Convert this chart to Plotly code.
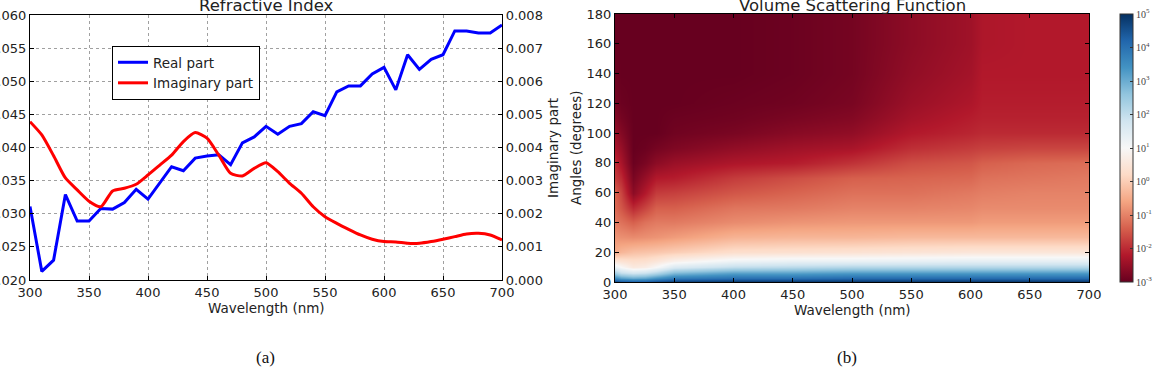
import plotly.graph_objects as go

W_PX, H_PX = 1161, 371

# ---------------- data: panel (a) ----------------
wavelength = [300, 310, 320, 330, 340, 350, 360, 370, 380, 390, 400, 410, 420, 430, 440,
              450, 460, 470, 480, 490, 500, 510, 520, 530, 540, 550, 560, 570, 580, 590,
              600, 610, 620, 630, 640, 650, 660, 670, 680, 690, 700]
real_part = [1.0311, 1.0213, 1.0230, 1.0329, 1.0289, 1.0289, 1.0308, 1.0307, 1.0317, 1.0337,
             1.0322, 1.0347, 1.0371, 1.0365, 1.0384, 1.0387, 1.0389, 1.0374, 1.0407, 1.0416,
             1.0432, 1.0420, 1.0432, 1.0436, 1.0454, 1.0448, 1.0484, 1.0493, 1.0493, 1.0511,
             1.0521, 1.0487, 1.0540, 1.0518, 1.0533, 1.0540, 1.0576, 1.0576, 1.0573, 1.0573,
             1.0585]
imag_part = [0.00478, 0.00438, 0.00375, 0.00308, 0.00272, 0.00238, 0.00221, 0.00269, 0.00277,
             0.00289, 0.00317, 0.00347, 0.00377, 0.00418, 0.00445, 0.00428, 0.00377, 0.00322,
             0.00314, 0.00337, 0.00354, 0.00327, 0.00292, 0.00262, 0.00221, 0.00191, 0.00171,
             0.00153, 0.00136, 0.00123, 0.00116, 0.00115, 0.00111, 0.00111, 0.00116, 0.00123,
             0.00131, 0.00139, 0.00141, 0.00136, 0.00121]

# ---------------- data: panel (b) (log10 of VSF) ----------------
vsf_wavelength = [300, 305, 315, 325, 335, 350, 400, 450, 500, 550, 600, 610, 650, 700]
vsf_angle = [0, 3, 6, 10, 14, 20, 30, 40, 50, 60, 70, 80, 90, 100, 110, 120, 140, 160, 180]
vsf_log10 = [
    [4.8, 4.6, 4.5, 4.5, 4.7, 4.9, 5.0, 5.0, 5.0, 5.0, 5.0, 5.0, 5.0, 5.0],            # 0
    [3.5, 3.2, 3.0, 3.1, 3.4, 3.8, 4.0, 4.0, 4.1, 4.1, 4.1, 4.1, 4.1, 4.1],            # 3
    [2.4, 2.0, 1.8, 1.9, 2.2, 2.8, 3.2, 3.2, 3.3, 3.3, 3.3, 3.3, 3.3, 3.3],            # 6
    [1.3, 1.0, 0.6, 0.7, 1.0, 1.6, 2.0, 2.1, 2.2, 2.2, 2.2, 2.2, 2.2, 2.2],            # 10
    [0.5, 0.4, 0.3, 0.35, 0.5, 0.8, 1.2, 1.3, 1.3, 1.35, 1.4, 1.4, 1.4, 1.4],          # 14
    [-0.5, -0.35, -0.2, -0.15, -0.1, 0.0, 0.3, 0.35, 0.4, 0.45, 0.5, 0.5, 0.5, 0.5],   # 20
    [-0.8, -0.85, -0.9, -0.85, -0.8, -0.7, -0.4, -0.35, -0.35, -0.3, -0.3, -0.3, -0.3, -0.3],  # 30
    [-1.1, -1.2, -1.4, -1.2, -1.1, -1.1, -0.9, -0.8, -0.75, -0.75, -0.75, -0.7, -0.7, -0.7],   # 40
    [-1.3, -1.5, -2.0, -1.7, -1.4, -1.4, -1.15, -1.1, -1.0, -1.0, -0.95, -0.9, -0.9, -0.9],    # 50
    [-1.4, -1.7, -2.6, -2.2, -1.8, -1.75, -1.5, -1.35, -1.2, -1.2, -1.1, -1.05, -1.0, -1.0],   # 60
    [-1.8, -2.0, -2.8, -2.5, -2.2, -2.15, -1.8, -1.6, -1.4, -1.35, -1.3, -1.2, -1.15, -1.1],   # 70
    [-2.0, -2.3, -2.95, -2.8, -2.6, -2.45, -2.25, -2.15, -1.9, -1.6, -1.5, -1.4, -1.3, -1.25],  # 80
    [-2.3, -2.5, -3.0, -2.95, -2.85, -2.75, -2.55, -2.4, -2.3, -1.95, -1.8, -1.75, -1.7, -1.7],  # 90
    [-2.5, -2.7, -3.0, -3.0, -3.0, -2.9, -2.8, -2.65, -2.55, -2.2, -2.05, -2.0, -2.0, -2.0],     # 100
    [-2.7, -2.85, -3.0, -3.0, -3.0, -2.95, -2.9, -2.8, -2.7, -2.35, -2.15, -2.1, -2.1, -2.1],    # 110
    [-2.85, -2.95, -3.0, -3.0, -3.0, -3.0, -2.95, -2.9, -2.8, -2.45, -2.25, -2.15, -2.15, -2.15], # 120
    [-2.95, -3.0, -3.0, -3.0, -3.0, -3.0, -3.0, -2.95, -2.85, -2.55, -2.35, -2.2, -2.2, -2.2],   # 140
    [-3.0, -3.0, -3.0, -3.0, -3.0, -3.0, -3.0, -2.95, -2.85, -2.6, -2.4, -2.25, -2.2, -2.2],     # 160
    [-3.0, -3.0, -3.0, -3.0, -3.0, -3.0, -3.0, -2.95, -2.85, -2.6, -2.4, -2.25, -2.2, -2.2],     # 180
]
cbar_exponents = [-3, -2, -1, 0, 1, 2, 3, 4, 5]

# matplotlib RdBu
rdbu = ["#67001f", "#b2182b", "#d6604d", "#f4a582", "#fddbc7", "#f7f7f7",
        "#d1e5f0", "#92c5de", "#4393c3", "#2166ac", "#053061"]
colorscale = [[i / 10, c] for i, c in enumerate(rdbu)]


def px_x(p):
    return p / W_PX


def px_y(p):
    return 1 - p / H_PX


FONT = "DejaVu Sans"
TXT = "#222222"

fig = go.Figure()

fig.add_trace(go.Scatter(x=wavelength, y=real_part, mode="lines", name="Real part",
                         line=dict(color="#0000ff", width=3), xaxis="x", yaxis="y"))
fig.add_trace(go.Scatter(x=wavelength, y=imag_part, mode="lines", name="Imaginary part",
                         line=dict(color="#ff0000", width=3, shape="spline", smoothing=0.6),
                         xaxis="x", yaxis="y2"))

fig.add_trace(go.Heatmap(
    x=vsf_wavelength, y=vsf_angle, z=vsf_log10, zsmooth="best",
    colorscale=colorscale, zmin=-3, zmax=5, xaxis="x2", yaxis="y3",
    showlegend=False,
    colorbar=dict(
        thickness=13, thicknessmode="pixels",
        len=268 / H_PX, lenmode="fraction",
        x=px_x(1120), xanchor="left", y=px_y(148), yanchor="middle",
        xpad=0, ypad=0, outlinecolor="#333333", outlinewidth=1,
        tickvals=cbar_exponents,
        ticktext=["10<sup>%d</sup>" % e for e in cbar_exponents],
        ticks="inside", ticklen=3, tickcolor="#333333",
        tickfont=dict(family="Liberation Serif", size=10, color="#444444"),
    ),
))

TICK = 13
axis_common = dict(showline=True, linecolor="#000000", linewidth=1.2, ticks="inside",
                   ticklen=4, tickcolor="#000000",
                   tickfont=dict(family=FONT, size=TICK, color=TXT), zeroline=False)

fig.update_layout(
    width=W_PX, height=H_PX, margin=dict(l=0, r=0, t=0, b=0, autoexpand=False),
    paper_bgcolor="white", plot_bgcolor="white",
    font=dict(family=FONT, color=TXT),
    xaxis=dict(domain=[px_x(30), px_x(502)], range=[300, 700], dtick=50, anchor="y",
               showgrid=True, gridcolor="#a0a0a0", griddash="dot", gridwidth=1,
               mirror=True, ticklabelstandoff=0, automargin=False, **axis_common),
    yaxis=dict(domain=[px_y(280), px_y(15)], range=[1.020, 1.060], dtick=0.005,
               tickformat=".3f", anchor="x", showgrid=True, gridcolor="#a0a0a0",
               griddash="dot", gridwidth=1, automargin=False, **axis_common),
    yaxis2=dict(range=[0, 0.008], dtick=0.001, tickformat=".3f", overlaying="y",
                side="right", anchor="x", showgrid=False, automargin=False, **axis_common),
    xaxis2=dict(domain=[px_x(615), px_x(1089)], range=[300, 700], dtick=50, anchor="y3",
                showgrid=False, mirror="ticks", ticklabelstandoff=0, automargin=False,
                **axis_common),
    yaxis3=dict(domain=[px_y(282), px_y(14)], range=[0, 180], dtick=20, anchor="x2",
                showgrid=False, mirror="ticks", automargin=False, **axis_common),
    legend=dict(x=px_x(112), y=px_y(46), xanchor="left", yanchor="top",
                bordercolor="#000000", borderwidth=1, bgcolor="white",
                font=dict(family=FONT, size=13.5, color=TXT), tracegroupgap=0),
)

annotations = [
    dict(text="Refractive Index", x=px_x(266), y=px_y(5), font=dict(size=16.5)),
    dict(text="Volume Scattering Function", x=px_x(852), y=px_y(5), font=dict(size=16.5)),
    dict(text="Wavelength (nm)", x=px_x(266), y=px_y(308), font=dict(size=13.5)),
    dict(text="Wavelength (nm)", x=px_x(852), y=px_y(310), font=dict(size=13.5)),
    dict(text="Imaginary part", x=px_x(553), y=px_y(148), textangle=-90, font=dict(size=13.5)),
    dict(text="Angles (degrees)", x=px_x(576), y=px_y(148), textangle=-90, font=dict(size=13.5)),
    dict(text="(a)", x=px_x(265), y=px_y(357),
         font=dict(family="Liberation Serif", size=17, color="#111111")),
    dict(text="(b)", x=px_x(847), y=px_y(357),
         font=dict(family="Liberation Serif", size=17, color="#111111")),
]
for a in annotations:
    a.update(xref="paper", yref="paper", showarrow=False, xanchor="center", yanchor="middle")
    a.setdefault("font", {})
    a["font"].setdefault("family", FONT)
    a["font"].setdefault("color", TXT)
fig.update_layout(annotations=annotations)

fig.write_html("out.html")
